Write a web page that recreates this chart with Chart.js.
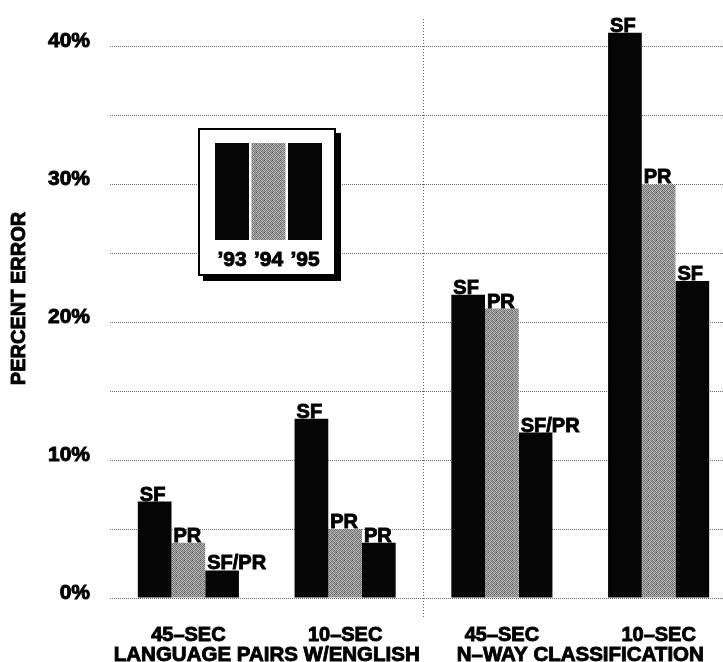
<!DOCTYPE html>
<html>
<head>
<meta charset="utf-8">
<script src="https://cdn.jsdelivr.net/npm/chart.js@4.4.1/dist/chart.umd.min.js"></script>
<style>
  html, body { margin: 0; padding: 0; background: #fff; overflow: hidden; }
  #wrap { width: 760px; height: 662px; position: relative; }
</style>
</head>
<body>
<div id="wrap"><canvas id="c"></canvas></div>
<script>
// ---- data ----
const categories = ['45–SEC', '10–SEC', '45–SEC', '10–SEC'];
const groupTitles = ['LANGUAGE PAIRS W/ENGLISH', 'N–WAY CLASSIFICATION'];
const seriesNames = ['’93', '’94', '’95'];
const error93 = [7, 13, 22, 41];
const error94 = [4, 5, 21, 30];
const error95 = [2, 4, 12, 23];
const tags93 = ['SF', 'SF', 'SF', 'SF'];
const tags94 = ['PR', 'PR', 'PR', 'PR'];
const tags95 = ['SF/PR', 'PR', 'SF/PR', 'SF'];
const yTitle = 'PERCENT ERROR';
const yMax = 42;
const yStep = 5;
const yLabelStep = 10;

// ---- styles ----
const FONT = "'Liberation Sans', Arial, Helvetica, sans-serif";
const STROKE = 0.9;
function makeGrayPattern() {
  const levels = [
    [0x60, 0xb8, 0x80, 0xa8, 0x6a, 0xc0, 0x78, 0xa0],
    [0xa8, 0x74, 0xc4, 0x6c, 0xb0, 0x84, 0xbc, 0x70],
    [0x7c, 0xb4, 0x64, 0xbc, 0x78, 0xa4, 0x68, 0xb4],
    [0xc0, 0x6e, 0xac, 0x84, 0xc4, 0x66, 0xae, 0x7c],
    [0x70, 0xac, 0x78, 0xb8, 0x6a, 0xbc, 0x80, 0xa8],
    [0xb4, 0x84, 0xc0, 0x68, 0xa6, 0x7a, 0xc4, 0x6c],
    [0x6c, 0xbc, 0x74, 0xac, 0x82, 0xb0, 0x64, 0xb8],
    [0xa4, 0x70, 0xb6, 0x7e, 0xc0, 0x6c, 0xa8, 0x84]
  ];
  const pc = document.createElement('canvas');
  pc.width = 8; pc.height = 8;
  const p = pc.getContext('2d');
  for (let r = 0; r < 8; r++) for (let c = 0; c < 8; c++) {
    const v = levels[r][c];
    p.fillStyle = 'rgb(' + v + ',' + v + ',' + v + ')';
    p.fillRect(c, r, 1, 1);
  }
  return document.getElementById('c').getContext('2d').createPattern(pc, 'repeat');
}
const gray = makeGrayPattern();
const tagSets = [tags93, tags94, tags95];

function heavyText(ctx, t, x, y) {
  ctx.fillText(t, x, y);
  ctx.lineWidth = STROKE;
  ctx.strokeStyle = '#000';
  ctx.strokeText(t, x, y);
}

const barTagsPlugin = {
  id: 'barTags',
  afterDatasetsDraw(chart) {
    const ctx = chart.ctx;
    ctx.save();
    ctx.font = 'bold 20px ' + FONT;
    ctx.fillStyle = '#000';
    ctx.textAlign = 'left';
    ctx.textBaseline = 'alphabetic';
    chart.data.datasets.forEach((ds, di) => {
      const meta = chart.getDatasetMeta(di);
      meta.data.forEach((el, i) => {
        heavyText(ctx, tagSets[di][i], el.x - el.width / 2 + 2, el.y - 1);
      });
    });
    ctx.restore();
  }
};

const yTitlePlugin = {
  id: 'yTitle',
  afterDraw(chart) {
    const ctx = chart.ctx;
    ctx.save();
    ctx.translate(19, chart.chartArea.top + (chart.chartArea.bottom - chart.chartArea.top) / 2 - 10);
    ctx.rotate(-Math.PI / 2);
    ctx.font = 'bold 20px ' + FONT;
    ctx.fillStyle = '#000';
    ctx.textAlign = 'center';
    ctx.textBaseline = 'middle';
    heavyText(ctx, yTitle, 0, 0);
    ctx.restore();
  }
};

const boxLegendPlugin = {
  id: 'boxLegend',
  afterDatasetsDraw(chart) {
    const ctx = chart.ctx;
    const bx = 198, by = 128, bw = 138, bh = 148;
    ctx.save();
    ctx.fillStyle = '#000';
    ctx.fillRect(bx + 5, by + 5, bw, bh);
    ctx.fillStyle = '#fff';
    ctx.fillRect(bx, by, bw, bh);
    ctx.lineWidth = 2;
    ctx.strokeStyle = '#000';
    ctx.strokeRect(bx + 1, by + 1, bw - 2, bh - 2);
    const barW = 34, gap = 2.5, top = 143, h = 97;
    ctx.font = 'bold 21px ' + FONT;
    ctx.textAlign = 'center';
    ctx.textBaseline = 'middle';
    chart.data.datasets.forEach((ds, i) => {
      const x = 215 + i * (barW + gap);
      ctx.fillStyle = ds.backgroundColor;
      ctx.fillRect(x, top, barW, h);
      ctx.fillStyle = '#000';
      heavyText(ctx, ds.label, x + barW / 2, 260);
    });
    ctx.restore();
  }
};

new Chart(document.getElementById('c'), {
  type: 'bar',
  data: {
    labels: categories,
    datasets: [
      { label: seriesNames[0], data: error93, backgroundColor: '#050505' },
      { label: seriesNames[1], data: error94, backgroundColor: gray },
      { label: seriesNames[2], data: error95, backgroundColor: '#050505' }
    ]
  },
  options: {
    responsive: true,
    maintainAspectRatio: false,
    animation: false,
    layout: { padding: { top: 19, right: 23, bottom: 0, left: 0 } },
    datasets: { bar: { barPercentage: 1.0, categoryPercentage: 0.645 } },
    plugins: { legend: { display: false }, tooltip: { enabled: false } },
    scales: {
      x: {
        type: 'category',
        position: 'bottom',
        offset: true,
        border: { display: false, dash: [1, 2] },
        grid: {
          offset: true,
          drawTicks: true,
          tickLength: 20,
          lineWidth: 1,
          color: (c) => (c.index === 2 ? '#666' : 'rgba(0,0,0,0)'),
          tickBorderDash: [1, 2]
        },
        ticks: {
          color: '#000',
          textStrokeColor: '#000',
          textStrokeWidth: STROKE,
          font: { family: FONT, size: 20, weight: 'bold', lineHeight: 1.2 },
          padding: 5,
          maxRotation: 0,
          autoSkip: false
        },
        afterFit(scale) { scale.height = 44; }
      },
      x2: {
        type: 'category',
        position: 'bottom',
        labels: groupTitles,
        offset: true,
        border: { display: false },
        grid: { display: false, drawTicks: false },
        ticks: {
          color: '#000',
          textStrokeColor: '#000',
          textStrokeWidth: STROKE,
          font: { family: FONT, size: 20.5, weight: 'bold', lineHeight: 1.0 },
          padding: 3,
          maxRotation: 0,
          autoSkip: false
        },
        afterFit(scale) { scale.height = 20; }
      },
      y: {
        min: 0,
        max: yMax,
        border: { display: false, dash: [1, 1] },
        grid: { color: '#6a6a6a', lineWidth: 1, drawTicks: false },
        afterBuildTicks(scale) {
          scale.ticks = scale.ticks.filter(t => t.value % yStep === 0);
        },
        ticks: {
          stepSize: yStep,
          color: '#000',
          textStrokeColor: '#000',
          textStrokeWidth: STROKE,
          padding: 20,
          labelOffset: -5,
          font: { family: FONT, size: 21, weight: 'bold' },
          callback: (v) => (v % yLabelStep === 0 ? v + '%' : '')
        },
        title: { display: false },
        afterFit(scale) {
          scale.width = 110;
          scale.paddingTop = 0;
          scale.paddingBottom = 0;
        }
      }
    }
  },
  plugins: [barTagsPlugin, boxLegendPlugin, yTitlePlugin]
});
</script>
</body>
</html>
